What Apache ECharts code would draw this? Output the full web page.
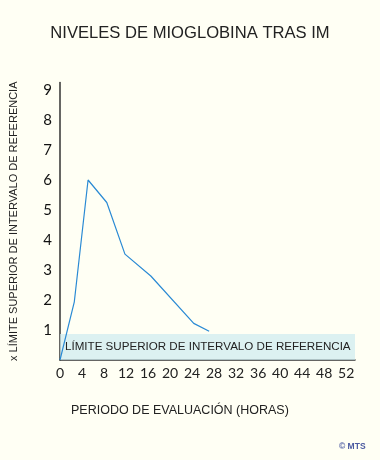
<!DOCTYPE html>
<html>
<head>
<meta charset="utf-8">
<script src="https://cdn.jsdelivr.net/npm/echarts@6/dist/echarts.min.js"></script>
<style>
html,body{margin:0;padding:0;background:#fffff4;}
#c{width:380px;height:460px;}
</style>
</head>
<body>
<div id="c"></div>
<script>
const hours = [0, 2.6, 5.1, 8.5, 11.8, 16.5, 24.3, 27.1];
const levels = [0, 1.94, 6.0, 5.25, 3.53, 2.8, 1.22, 0.96];
const xTicks = [0, 4, 8, 12, 16, 20, 24, 28, 32, 36, 40, 44, 48, 52];
const yTicks = [1, 2, 3, 4, 5, 6, 7, 8, 9];
const refLimit = 0.87;
const titleText = 'NIVELES DE MIOGLOBINA TRAS IM';
const xName = 'PERIODO DE EVALUACIÓN (HORAS)';
const yName = 'x LÍMITE SUPERIOR DE INTERVALO DE REFERENCIA';
const bandText = 'LÍMITE SUPERIOR DE INTERVALO DE REFERENCIA';
const credit = '© MTS';

const chart = echarts.init(document.getElementById('c'));
chart.setOption({
  backgroundColor: '#fffff4',
  animation: false,
  title: [
    {text: titleText, left: 'center', top: 20,
     textStyle: {fontFamily: 'Liberation Sans', fontSize: 16.6, fontWeight: 'normal', color: '#222'}},
    {text: xName, left: 66, top: 399,
     textStyle: {fontFamily: 'Liberation Sans', fontSize: 12.5, fontWeight: 'normal', color: '#222'}},
    {text: credit, left: 334, top: 437,
     textStyle: {fontFamily: 'Liberation Sans', fontSize: 8.5, fontWeight: 'bold', color: '#4b5aa0'}}
  ],
  grid: {left: 56, right: 25, top: 82.5, bottom: 100, containLabel: false},
  xAxis: {
    type: 'value', min: 0, max: 53.6, interval: 4,
    axisLine: {show: true, lineStyle: {color: '#333', width: 1.5}},
    axisTick: {show: false},
    splitLine: {show: false},
    axisLabel: {
      margin: 6, color: '#222', fontFamily: 'Lato', fontSize: 14,
      formatter: v => xTicks.indexOf(v) >= 0 ? String(v) : ''
    }
  },
  yAxis: {
    type: 'value', min: 0, max: 9.25, interval: 1,
    name: yName, nameLocation: 'middle', nameGap: 41,
    nameTextStyle: {fontFamily: 'Liberation Sans', fontSize: 11, color: '#222'},
    axisLine: {show: true, lineStyle: {color: '#333', width: 1.5}},
    axisTick: {show: false},
    splitLine: {show: false},
    axisLabel: {
      margin: 8, color: '#111', fontFamily: 'Lato', fontSize: 15,
      formatter: v => yTicks.indexOf(v) >= 0 ? String(v) : ''
    }
  },
  series: [
    {
      type: 'line', data: hours.map((h, i) => [h, levels[i]]),
      symbol: 'none', z: 2,
      lineStyle: {color: '#2a8ad4', width: 1.2}
    },
    {
      type: 'line', data: [], z: 5,
      markArea: {
        silent: true,
        itemStyle: {color: 'rgba(205,235,240,0.7)'},
        label: {show: true, position: 'insideLeft', offset: [0, 0],
                fontFamily: 'Liberation Sans', fontSize: 11.6, color: '#222'},
        data: [[{name: bandText, xAxis: 0, yAxis: 0}, {xAxis: 53.6, yAxis: refLimit}]]
      }
    }
  ]
});
</script>
</body>
</html>
